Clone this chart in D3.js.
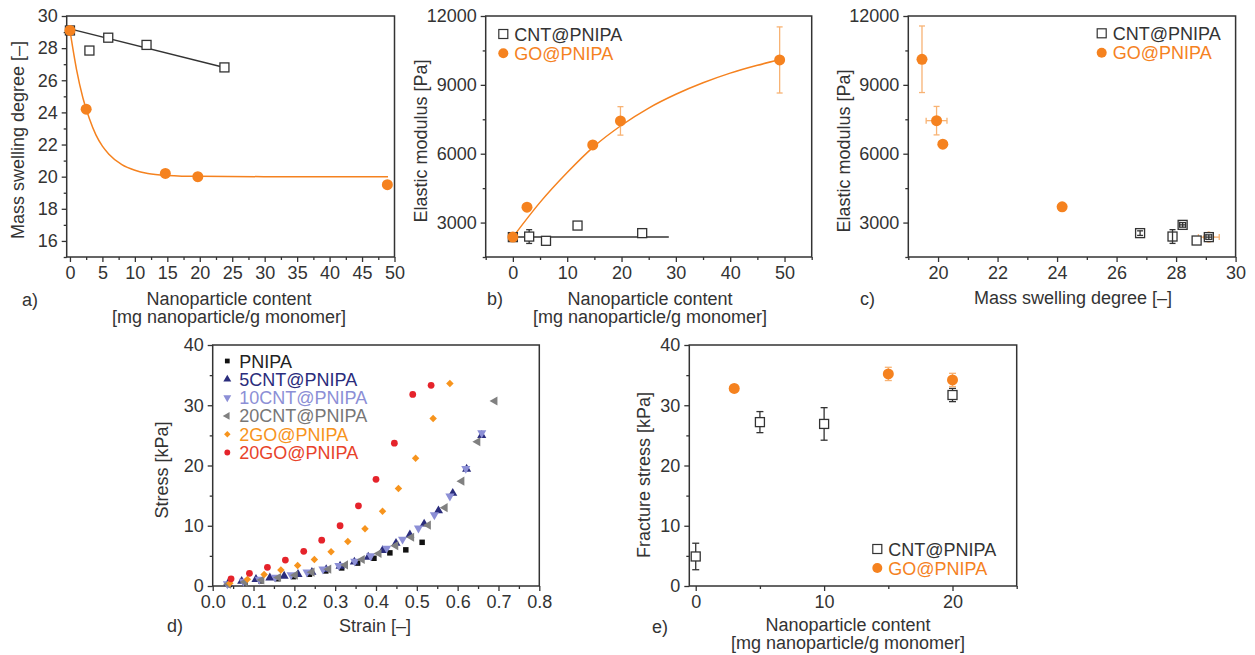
<!DOCTYPE html>
<html>
<head>
<meta charset="utf-8">
<script src="https://cdn.jsdelivr.net/npm/d3@7"></script>
<style>
body { margin: 0; background: #fff; }
svg text { font-family: "Liberation Sans", Arial, Helvetica, sans-serif; fill: #333; }
</style>
</head>
<body>
<svg id="fig" width="1255" height="655"></svg>
<script>
// ---- a) swelling vs content
var aCntContent = [0, 3, 5.9, 11.8, 23.8];
var aCntSwell = [29.1, 27.85, 28.65, 28.2, 26.8];
var aCntErr = [0.1, 0, 0.15, 0.15, 0.2];
var aGoContent = [0, 2.5, 14.7, 19.7, 48.9];
var aGoSwell = [29.1, 24.2, 20.2, 20.0, 19.5];
var aGoErr = [0, 0, 0.1, 0.25, 0.05];
var aCntFitX = [0, 23.8];
var aCntFitY = [29.2, 26.8];
var aGoFitX = [0, 1, 2, 3, 4, 5, 6, 8, 10, 12, 15, 20, 30, 49];
var aGoFitY = [29.1, 26.7, 24.9, 23.6, 22.6, 21.9, 21.4, 20.75, 20.4, 20.2, 20.08, 20.02, 20, 20];

// ---- b) modulus vs content
var bCntContent = [0, 3, 6.1, 11.9, 23.8];
var bCntMod = [2366, 2390, 2205, 2870, 2540];
var bCntErr = [0, 300, 0, 100, 60];
var bGoContent = [0, 2.6, 14.7, 19.8, 49.1];
var bGoMod = [2366, 3670, 6385, 7430, 10085];
var bGoErr = [0, 0, 150, 620, 1440];
var bCntFitX = [-0.5, 28.7];
var bCntFitY = [2366, 2366];
var bGoFitX = [0, 5, 10, 15, 20, 25, 30, 35, 40, 45, 49];
var bGoFitY = [2366, 3880, 5180, 6330, 7240, 7990, 8590, 9090, 9510, 9850, 10090];

// ---- c) modulus vs swelling
var cGoSwell = [19.46, 19.95, 20.16, 24.17, 29.1];
var cGoMod = [10115, 7440, 6414, 3685, 2366];
var cGoYErr = [1450, 620, 0, 0, 0];
var cGoXErr = [0.1, 0.35, 0.05, 0, 0.35];
var cCntSwell = [26.79, 27.88, 28.22, 28.69, 29.1];
var cCntMod = [2540, 2392, 2900, 2218, 2366];
var cCntYErr = [100, 300, 100, 0, 100];
var cCntXErr = [0, 0, 0.1, 0, 0.1];

// ---- d) stress-strain curves
var pnipaStrain = [0.04, 0.079, 0.118, 0.158, 0.198, 0.237, 0.277, 0.316, 0.355, 0.395, 0.434, 0.473, 0.513];
var pnipaStress = [0.25, 0.55, 0.85, 1.2, 1.55, 1.95, 2.5, 3.0, 3.8, 4.6, 5.5, 6.0, 7.25];
var cnt5Strain = [0.038, 0.071, 0.106, 0.14, 0.175, 0.209, 0.243, 0.278, 0.312, 0.347, 0.381, 0.416, 0.449, 0.483, 0.518, 0.553, 0.588, 0.622, 0.659];
var cnt5Stress = [0.45, 0.8, 1.1, 1.35, 1.65, 1.95, 2.3, 2.75, 3.3, 4.0, 4.8, 5.9, 7.1, 8.5, 10.3, 12.5, 15.4, 19.4, 25.0];
var cnt10Strain = [0.036, 0.075, 0.114, 0.153, 0.192, 0.231, 0.27, 0.309, 0.348, 0.387, 0.426, 0.465, 0.504, 0.543, 0.581, 0.62, 0.659];
var cnt10Stress = [0.35, 0.75, 1.1, 1.45, 1.85, 2.3, 2.8, 3.4, 4.1, 5.0, 6.25, 7.75, 9.6, 11.8, 14.9, 19.5, 25.4];
var cnt20Strain = [0.038, 0.079, 0.12, 0.161, 0.202, 0.243, 0.284, 0.325, 0.366, 0.407, 0.448, 0.487, 0.528, 0.569, 0.61, 0.649, 0.691];
var cnt20Stress = [0.3, 0.65, 1.0, 1.4, 1.8, 2.3, 2.8, 3.5, 4.4, 5.4, 6.7, 8.1, 10.1, 13.0, 17.4, 23.95, 30.7];
var go2Strain = [0.042, 0.085, 0.126, 0.167, 0.208, 0.249, 0.29, 0.331, 0.373, 0.416, 0.455, 0.497, 0.54, 0.581];
var go2Stress = [0.45, 1.1, 1.9, 2.65, 3.4, 4.4, 5.7, 7.4, 9.5, 12.4, 16.2, 21.2, 27.8, 33.6];
var go20Strain = [0.045, 0.09, 0.134, 0.178, 0.223, 0.267, 0.312, 0.357, 0.4, 0.445, 0.49, 0.535];
var go20Stress = [1.2, 2.1, 3.1, 4.3, 5.75, 7.6, 10.0, 13.3, 17.7, 23.7, 31.8, 33.3];
var dNames = ["PNIPA", "5CNT@PNIPA", "10CNT@PNIPA", "20CNT@PNIPA", "2GO@PNIPA", "20GO@PNIPA"];

// ---- e) fracture stress
var eCntContent = [0, 5, 10, 20];
var eCntStress = [4.9, 27.2, 26.9, 31.7];
var eCntErr = [2.2, 1.75, 2.7, 1.1];
var eGoContent = [3, 15, 20];
var eGoStress = [32.8, 35.2, 34.2];
var eGoErr = [0.3, 1.1, 1.1];

var INK = "#333";
var ORANGE = "#f5821f";
var ORANGE_ERR = "#f8b374";
var FS = 18;

var svg = d3.select("#fig");

function zip(xs, ys, es, xe) {
	return xs.map(function(v, i) {
		return {x: v, y: ys[i], e: es ? es[i] : 0, xe: xe ? xe[i] : 0};
	});
}

function styleAxis(sel) {
	sel.select(".domain").remove();
	sel.selectAll(".tick line").attr("stroke", INK).attr("stroke-width", 1.3);
	sel.selectAll(".tick text").attr("font-size", FS).attr("fill", INK)
		.style("font-family", "'Liberation Sans', Arial, sans-serif");
}

// builds frame, axes and returns the scales
function panel(o) {
	var x = d3.scaleLinear().domain(o.xDom).range(o.xRange);
	var y = d3.scaleLinear().domain(o.yDom).range(o.yRange);
	var g = svg.append("g");
	var bottom = o.yRange[0], top = o.yRange[1], left = o.xRange[0], right = o.xRange[1];

	g.append("g").attr("transform", "translate(0," + bottom + ")")
		.call(d3.axisBottom(x).tickValues(o.xMinor).tickSize(3).tickFormat("")).call(styleAxis);
	g.append("g").attr("transform", "translate(0," + bottom + ")")
		.call(d3.axisBottom(x).tickValues(o.xMajor).tickSize(5).tickPadding(4).tickFormat(o.xFmt || d3.format("d"))).call(styleAxis);
	g.append("g").attr("transform", "translate(" + left + ",0)")
		.call(d3.axisLeft(y).tickValues(o.yMinor).tickSize(3).tickFormat("")).call(styleAxis);
	g.append("g").attr("transform", "translate(" + left + ",0)")
		.call(d3.axisLeft(y).tickValues(o.yMajor).tickSize(5).tickPadding(4).tickFormat(d3.format("d"))).call(styleAxis);

	g.append("rect").attr("x", left).attr("y", top)
		.attr("width", right - left).attr("height", bottom - top)
		.attr("fill", "none").attr("stroke", INK).attr("stroke-width", 1.5);

	var plot = svg.append("g");
	return {x: x, y: y, g: plot};
}

function text(txt, x, y, opts) {
	opts = opts || {};
	return svg.append("text").attr("x", x).attr("y", y)
		.attr("font-size", opts.size || FS)
		.attr("text-anchor", opts.anchor || "start")
		.style("fill", opts.color || INK)
		.text(txt);
}

function yTitle(txt, xb, yc) {
	svg.append("text")
		.attr("transform", "translate(" + xb + "," + yc + ") rotate(-90)")
		.attr("text-anchor", "middle").attr("font-size", FS)
		.text(txt);
}

function line(p, xs, ys, color, w, curve) {
	var gen = d3.line().x(function(d) { return p.x(d.x); }).y(function(d) { return p.y(d.y); })
		.curve(curve || d3.curveLinear);
	p.g.append("path").datum(zip(xs, ys)).attr("d", gen)
		.attr("fill", "none").attr("stroke", color).attr("stroke-width", w);
}

function errBars(p, pts, color, cap) {
	var eg = p.g.append("g").attr("stroke", color).attr("stroke-width", 1.3);
	pts.forEach(function(d) {
		var cx = p.x(d.x), cy = p.y(d.y);
		if (d.e > 0) {
			var y0 = p.y(d.y - d.e), y1 = p.y(d.y + d.e);
			eg.append("line").attr("x1", cx).attr("x2", cx).attr("y1", y0).attr("y2", y1);
			eg.append("line").attr("x1", cx - cap).attr("x2", cx + cap).attr("y1", y0).attr("y2", y0);
			eg.append("line").attr("x1", cx - cap).attr("x2", cx + cap).attr("y1", y1).attr("y2", y1);
		}
		if (d.xe > 0) {
			var x0 = p.x(d.x - d.xe), x1 = p.x(d.x + d.xe);
			eg.append("line").attr("x1", x0).attr("x2", x1).attr("y1", cy).attr("y2", cy);
			eg.append("line").attr("x1", x0).attr("x2", x0).attr("y1", cy - cap).attr("y2", cy + cap);
			eg.append("line").attr("x1", x1).attr("x2", x1).attr("y1", cy - cap).attr("y2", cy + cap);
		}
	});
}

function squares(p, pts, size) {
	p.g.selectAll(null).data(pts).enter().append("rect")
		.attr("x", function(d) { return p.x(d.x) - size / 2; })
		.attr("y", function(d) { return p.y(d.y) - size / 2; })
		.attr("width", size).attr("height", size)
		.attr("fill", "#fff").attr("stroke", INK).attr("stroke-width", 1.3);
}

function dots(p, pts, r, color) {
	p.g.selectAll(null).data(pts).enter().append("circle")
		.attr("cx", function(d) { return p.x(d.x); })
		.attr("cy", function(d) { return p.y(d.y); })
		.attr("r", r).attr("fill", color);
}

function symbols(p, pts, type, size, rot, color) {
	var s = d3.symbol().type(type).size(size);
	p.g.selectAll(null).data(pts).enter().append("path")
		.attr("d", s)
		.attr("transform", function(d) { return "translate(" + p.x(d.x) + "," + p.y(d.y) + ") rotate(" + rot + ")"; })
		.attr("fill", color);
}

function twoLegend(x, y1, y2) {
	svg.append("rect").attr("x", x - 4.5).attr("y", y1 - 4.5).attr("width", 9).attr("height", 9)
		.attr("fill", "#fff").attr("stroke", INK).attr("stroke-width", 1.2);
	text("CNT@PNIPA", x + 11, y1 + 6.5);
	svg.append("circle").attr("cx", x).attr("cy", y2).attr("r", 5).attr("fill", ORANGE);
	text("GO@PNIPA", x + 11, y2 + 6.5, {color: ORANGE});
}

// ================= panel a
var pa = panel({
	xDom: [-0.5, 50], xRange: [66.7, 394.5],
	yDom: [15, 30], yRange: [257, 16],
	xMajor: d3.range(0, 51, 5), xMinor: d3.range(2.5, 50, 5),
	yMajor: d3.range(16, 31, 2), yMinor: d3.range(15, 30, 2)
});
line(pa, aCntFitX, aCntFitY, INK, 1.5);
line(pa, aGoFitX, aGoFitY, ORANGE, 1.5, d3.curveMonotoneX);
errBars(pa, zip(aCntContent, aCntSwell, aCntErr), INK, 3);
squares(pa, zip(aCntContent, aCntSwell), 9);
errBars(pa, zip(aGoContent, aGoSwell, aGoErr), ORANGE_ERR, 3);
dots(pa, zip(aGoContent, aGoSwell), 5.5, ORANGE);
yTitle("Mass swelling degree [–]", 24, 140);
text("Nanoparticle content", 229, 305, {anchor: "middle"});
text("[mg nanoparticle/g monomer]", 229, 323, {anchor: "middle"});
text("a)", 22, 306);

// ================= panel b
var pb = panel({
	xDom: [-5, 55], xRange: [485.7, 811.7],
	yDom: [1500, 12000], yRange: [257, 16],
	xMajor: d3.range(0, 51, 10), xMinor: d3.range(-5, 56, 10),
	yMajor: [3000, 6000, 9000, 12000], yMinor: [1500, 4500, 7500, 10500]
});
line(pb, bCntFitX, bCntFitY, INK, 1.5);
line(pb, bGoFitX, bGoFitY, ORANGE, 1.5, d3.curveMonotoneX);
errBars(pb, zip(bCntContent, bCntMod, bCntErr), INK, 3);
squares(pb, zip(bCntContent, bCntMod), 9);
errBars(pb, zip(bGoContent, bGoMod, bGoErr), ORANGE_ERR, 3);
dots(pb, zip(bGoContent, bGoMod), 5.5, ORANGE);
twoLegend(503.3, 34, 53.3);
yTitle("Elastic modulus [Pa]", 427, 141);
text("Nanoparticle content", 650, 305, {anchor: "middle"});
text("[mg nanoparticle/g monomer]", 650, 323, {anchor: "middle"});
text("b)", 487, 305);

// ================= panel c
var pc = panel({
	xDom: [19, 30], xRange: [908.3, 1235.6],
	yDom: [1500, 12000], yRange: [257, 16],
	xMajor: d3.range(20, 31, 2), xMinor: d3.range(19, 30, 2),
	yMajor: [3000, 6000, 9000, 12000], yMinor: [1500, 4500, 7500, 10500]
});
errBars(pc, zip(cGoSwell, cGoMod, cGoYErr, cGoXErr), ORANGE_ERR, 3);
dots(pc, zip(cGoSwell, cGoMod), 5.5, ORANGE);
squares(pc, zip(cCntSwell, cCntMod), 9);
errBars(pc, zip(cCntSwell, cCntMod, cCntYErr, cCntXErr), INK, 3);
twoLegend(1101.7, 33.3, 52.7);
yTitle("Elastic modulus [Pa]", 850, 151);
text("Mass swelling degree [–]", 1073, 304, {anchor: "middle"});
text("c)", 860, 305);

// ================= panel d
var pd = panel({
	xDom: [0, 0.8], xRange: [212.7, 539.3],
	yDom: [0, 40], yRange: [586, 345],
	xMajor: d3.range(0, 0.81, 0.1), xMinor: d3.range(0.05, 0.8, 0.1),
	yMajor: d3.range(0, 41, 10), yMinor: d3.range(5, 40, 10),
	xFmt: d3.format(".1f")
});
// diamonds are squares turned by 45 degrees
var dSeries = [
	{xs: pnipaStrain, ys: pnipaStress, type: d3.symbolSquare, size: 30, rot: 0, color: "#111", txt: "#222"},
	{xs: cnt5Strain, ys: cnt5Stress, type: d3.symbolTriangle, size: 36, rot: 0, color: "#2a2c7c", txt: "#2a2c7c"},
	{xs: cnt10Strain, ys: cnt10Stress, type: d3.symbolTriangle, size: 36, rot: 180, color: "#8c8fd6", txt: "#8c8fd6"},
	{xs: cnt20Strain, ys: cnt20Stress, type: d3.symbolTriangle, size: 36, rot: -90, color: "#808080", txt: "#777"},
	{xs: go2Strain, ys: go2Stress, type: d3.symbolSquare, size: 28, rot: 45, color: "#f7941d", txt: "#f7941d"},
	{xs: go20Strain, ys: go20Stress, type: d3.symbolCircle, size: 36, rot: 0, color: "#e5232b", txt: "#e8432b"}
];
dSeries.forEach(function(s) {
	symbols(pd, zip(s.xs, s.ys), s.type, s.size, s.rot, s.color);
});
dSeries.forEach(function(s, i) {
	var yc = 361 + i * 18.3;
	var sym = d3.symbol().type(s.type).size(s.size * 0.75);
	svg.append("path").attr("d", sym)
		.attr("transform", "translate(227.3," + yc + ") rotate(" + s.rot + ")")
		.attr("fill", s.color);
	text(dNames[i], 239.3, yc + 6.5, {color: s.txt});
});
yTitle("Stress [kPa]", 168, 470);
text("Strain [–]", 375, 632, {anchor: "middle"});
text("d)", 167, 632);

// ================= panel e
var pe = panel({
	xDom: [-0.5, 25], xRange: [689.3, 1016.7],
	yDom: [0, 40], yRange: [586, 345],
	xMajor: [0, 10, 20], xMinor: [5, 15, 25],
	yMajor: d3.range(0, 41, 10), yMinor: d3.range(5, 40, 10)
});
errBars(pe, zip(eCntContent, eCntStress, eCntErr), INK, 3.5);
squares(pe, zip(eCntContent, eCntStress), 9);
errBars(pe, zip(eGoContent, eGoStress, eGoErr), ORANGE_ERR, 3.5);
dots(pe, zip(eGoContent, eGoStress), 5.5, ORANGE);
twoLegend(877.3, 549, 568);
yTitle("Fracture stress [kPa]", 650, 475);
text("Nanoparticle content", 848, 631, {anchor: "middle"});
text("[mg nanoparticle/g monomer]", 848, 649, {anchor: "middle"});
text("e)", 652, 633);
</script>
</body>
</html>
